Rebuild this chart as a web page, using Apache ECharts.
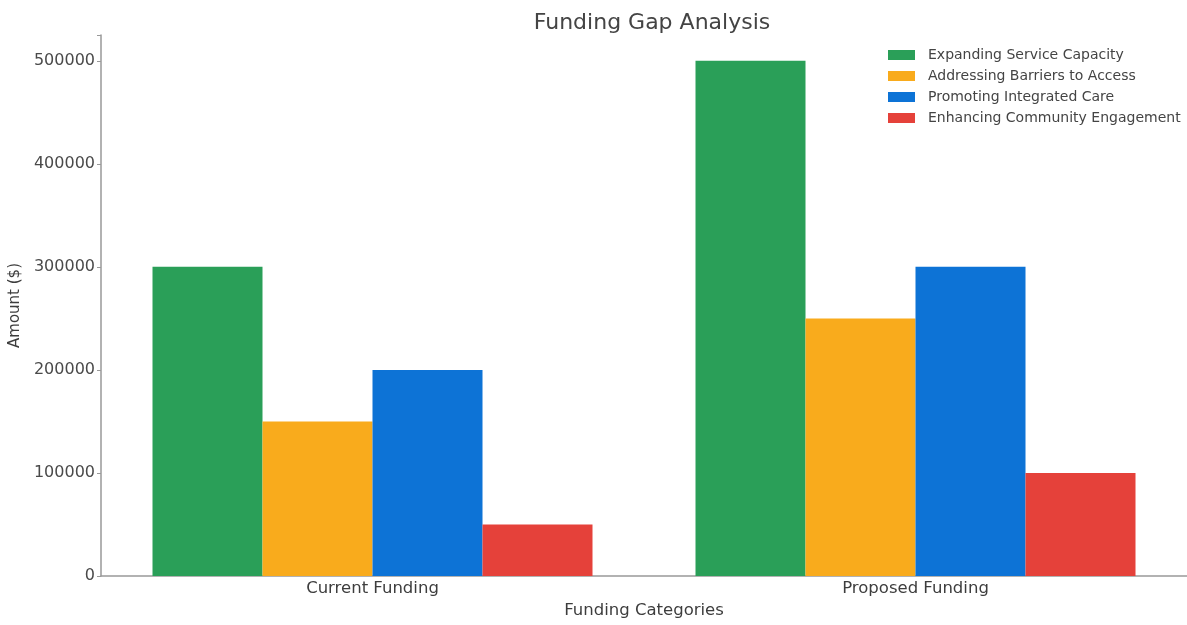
<!DOCTYPE html>
<html>
<head>
<meta charset="utf-8">
<script src="https://cdn.jsdelivr.net/npm/echarts@6/dist/echarts.min.js"></script>
<style>html,body{margin:0;padding:0;background:#fff}#c{width:1187px;height:625px}</style>
</head>
<body>
<div id="c"></div>
<script>
const categories = ['Current Funding', 'Proposed Funding'];
const seriesNames = ['Expanding Service Capacity', 'Addressing Barriers to Access', 'Promoting Integrated Care', 'Enhancing Community Engagement'];
const expandingService = [300000, 500000];
const addressingBarriers = [150000, 250000];
const promotingCare = [200000, 300000];
const enhancingEngagement = [50000, 100000];
const yTicks = [0, 100000, 200000, 300000, 400000, 500000];
const colors = ['#2a9f58', '#f9ab1c', '#0d73d6', '#e5413a'];

const values = [expandingService, addressingBarriers, promotingCare, enhancingEngagement];
const font = 'DejaVu Sans';
const chart = echarts.init(document.getElementById('c'), null, {renderer: 'canvas'});
chart.setOption({
  animation: false,
  backgroundColor: '#fff',
  title: {
    text: 'Funding Gap Analysis', left: 647, top: 7, textAlign: 'center',
    textStyle: {fontFamily: font, fontSize: 22, fontWeight: 'normal', color: '#444'}
  },
  legend: {
    orient: 'vertical', left: 888, top: 48,
    icon: 'rect', itemWidth: 27, itemHeight: 10, itemGap: 7,
    backgroundColor: 'rgba(255,255,255,0.8)', padding: 0,
    textStyle: {fontFamily: font, fontSize: 14, color: '#444', lineHeight: 14, padding: [0, 0, 0, 8]},
    data: seriesNames
  },
  grid: {left: 101, top: 35, width: 1089, height: 541, containLabel: false},
  xAxis: {
    type: 'category', data: categories,
    axisLine: {lineStyle: {color: '#999', width: 1.5}},
    axisTick: {show: false},
    axisLabel: {fontFamily: font, fontSize: 16.5, color: '#3d3d3d', margin: 4},
    name: 'Funding Categories', nameLocation: 'middle', nameGap: 25,
    nameTextStyle: {fontFamily: font, fontSize: 16.5, color: '#3d3d3d'}
  },
  yAxis: {
    type: 'value', min: 0, max: 525000, interval: 100000,
    axisLine: {show: true, lineStyle: {color: '#999', width: 1.5}},
    axisTick: {show: true, length: 4, lineStyle: {color: '#999'}},
    splitLine: {show: false},
    axisLabel: {
      fontFamily: font, fontSize: 16, color: '#4a4a4a', margin: 6,
      formatter: v => yTicks.includes(v) ? String(v) : ''
    },
    name: 'Amount ($)', nameLocation: 'middle', nameGap: 76,
    nameTextStyle: {fontFamily: font, fontSize: 15, color: '#3d3d3d'}
  },
  series: seriesNames.map((n, i) => ({
    name: n, type: 'bar', data: values[i],
    barWidth: 110, barGap: '0%',
    itemStyle: {color: colors[i]}
  }))
});
</script>
</body>
</html>
